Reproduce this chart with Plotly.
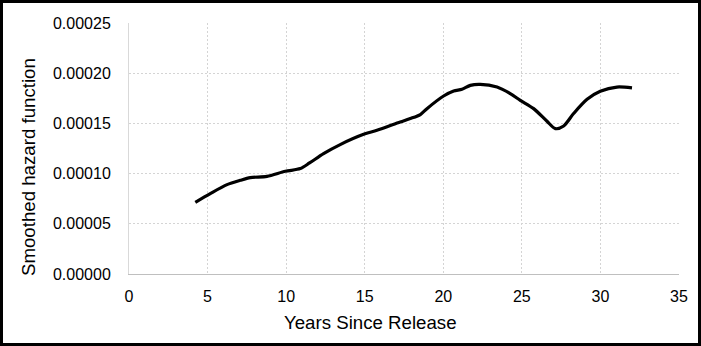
import plotly.graph_objects as go

years = [4.22, 5.17, 6.24, 7.08, 7.72, 8.78, 9.95, 10.90, 11.49, 12.38, 13.44, 14.93,
         15.78, 17.26, 17.90, 18.54, 18.96, 20.02, 20.66, 21.19, 21.72, 22.35, 23.42,
         24.26, 24.90, 25.75, 26.60, 27.13, 27.66, 28.29, 29.15, 29.99, 31.05, 32.01]
hazard = [7.14e-5, 8.01e-5, 8.90e-5, 9.33e-5, 9.60e-5, 9.73e-5, 1.023e-4, 1.050e-4,
          1.106e-4, 1.199e-4, 1.289e-4, 1.391e-4, 1.431e-4, 1.514e-4, 1.548e-4,
          1.588e-4, 1.647e-4, 1.773e-4, 1.823e-4, 1.840e-4, 1.879e-4, 1.889e-4,
          1.862e-4, 1.797e-4, 1.730e-4, 1.647e-4, 1.521e-4, 1.448e-4, 1.474e-4,
          1.598e-4, 1.740e-4, 1.820e-4, 1.862e-4, 1.853e-4]

x_ticks = [0, 5, 10, 15, 20, 25, 30, 35]
y_ticks = [0, 0.00005, 0.0001, 0.00015, 0.0002, 0.00025]
y_tick_text = ["0.00000", "0.00005", "0.00010", "0.00015", "0.00020", "0.00025"]

W, H = 701, 346
L, R, T, B = 129, 22, 23, 72
pw, ph = W - L - R, H - T - B

fig = go.Figure()
fig.add_trace(go.Scatter(x=years, y=hazard, mode="lines",
                         line=dict(color="black", width=3.2, shape="spline", smoothing=0.8),
                         showlegend=False, hoverinfo="skip"))

font = "Liberation Sans, Arial, sans-serif"
fig.update_layout(
    width=W, height=H,
    margin=dict(l=L, r=R, t=T, b=B, pad=0),
    paper_bgcolor="white", plot_bgcolor="white",
    font=dict(family=font, size=16, color="black"),
    xaxis=dict(range=[0, 35], tickvals=x_ticks, showgrid=True, gridcolor="#d4d4d4",
               griddash="2px,2px", gridwidth=1, zeroline=False, showline=True,
               linecolor="#bfbfbf", linewidth=1, ticks="", ticklabelstandoff=8,
               tickfont=dict(size=16, family=font)),
    yaxis=dict(range=[0, 0.00025], tickvals=y_ticks, ticktext=y_tick_text, showgrid=True,
               gridcolor="#d4d4d4", griddash="2px,2px", gridwidth=1, zeroline=False,
               showline=True, linecolor="#d9d9d9", linewidth=1, ticks="",
               ticklabelstandoff=14, tickfont=dict(size=16, family=font)),
    annotations=[
        dict(text="Years Since Release", xref="paper", yref="paper",
             x=(370 - L) / pw, y=-(322 - (T + ph)) / ph, xanchor="center", yanchor="middle",
             showarrow=False, font=dict(size=18.67, family=font)),
        dict(text="Smoothed hazard function", xref="paper", yref="paper",
             x=-(L - 28) / pw, y=1 - (167 - T) / ph, xanchor="center", yanchor="middle",
             textangle=-90, showarrow=False, font=dict(size=18.67, family=font)),
    ],
    shapes=[dict(type="rect", xref="paper", yref="paper",
                 x0=(-L + 1.5) / pw, x1=1 + (R - 1.5) / pw,
                 y0=-(B - 1.5) / ph, y1=1 + (T - 1.5) / ph,
                 line=dict(color="black", width=3), fillcolor="rgba(0,0,0,0)", layer="above")],
)

fig.write_html("out.html")
